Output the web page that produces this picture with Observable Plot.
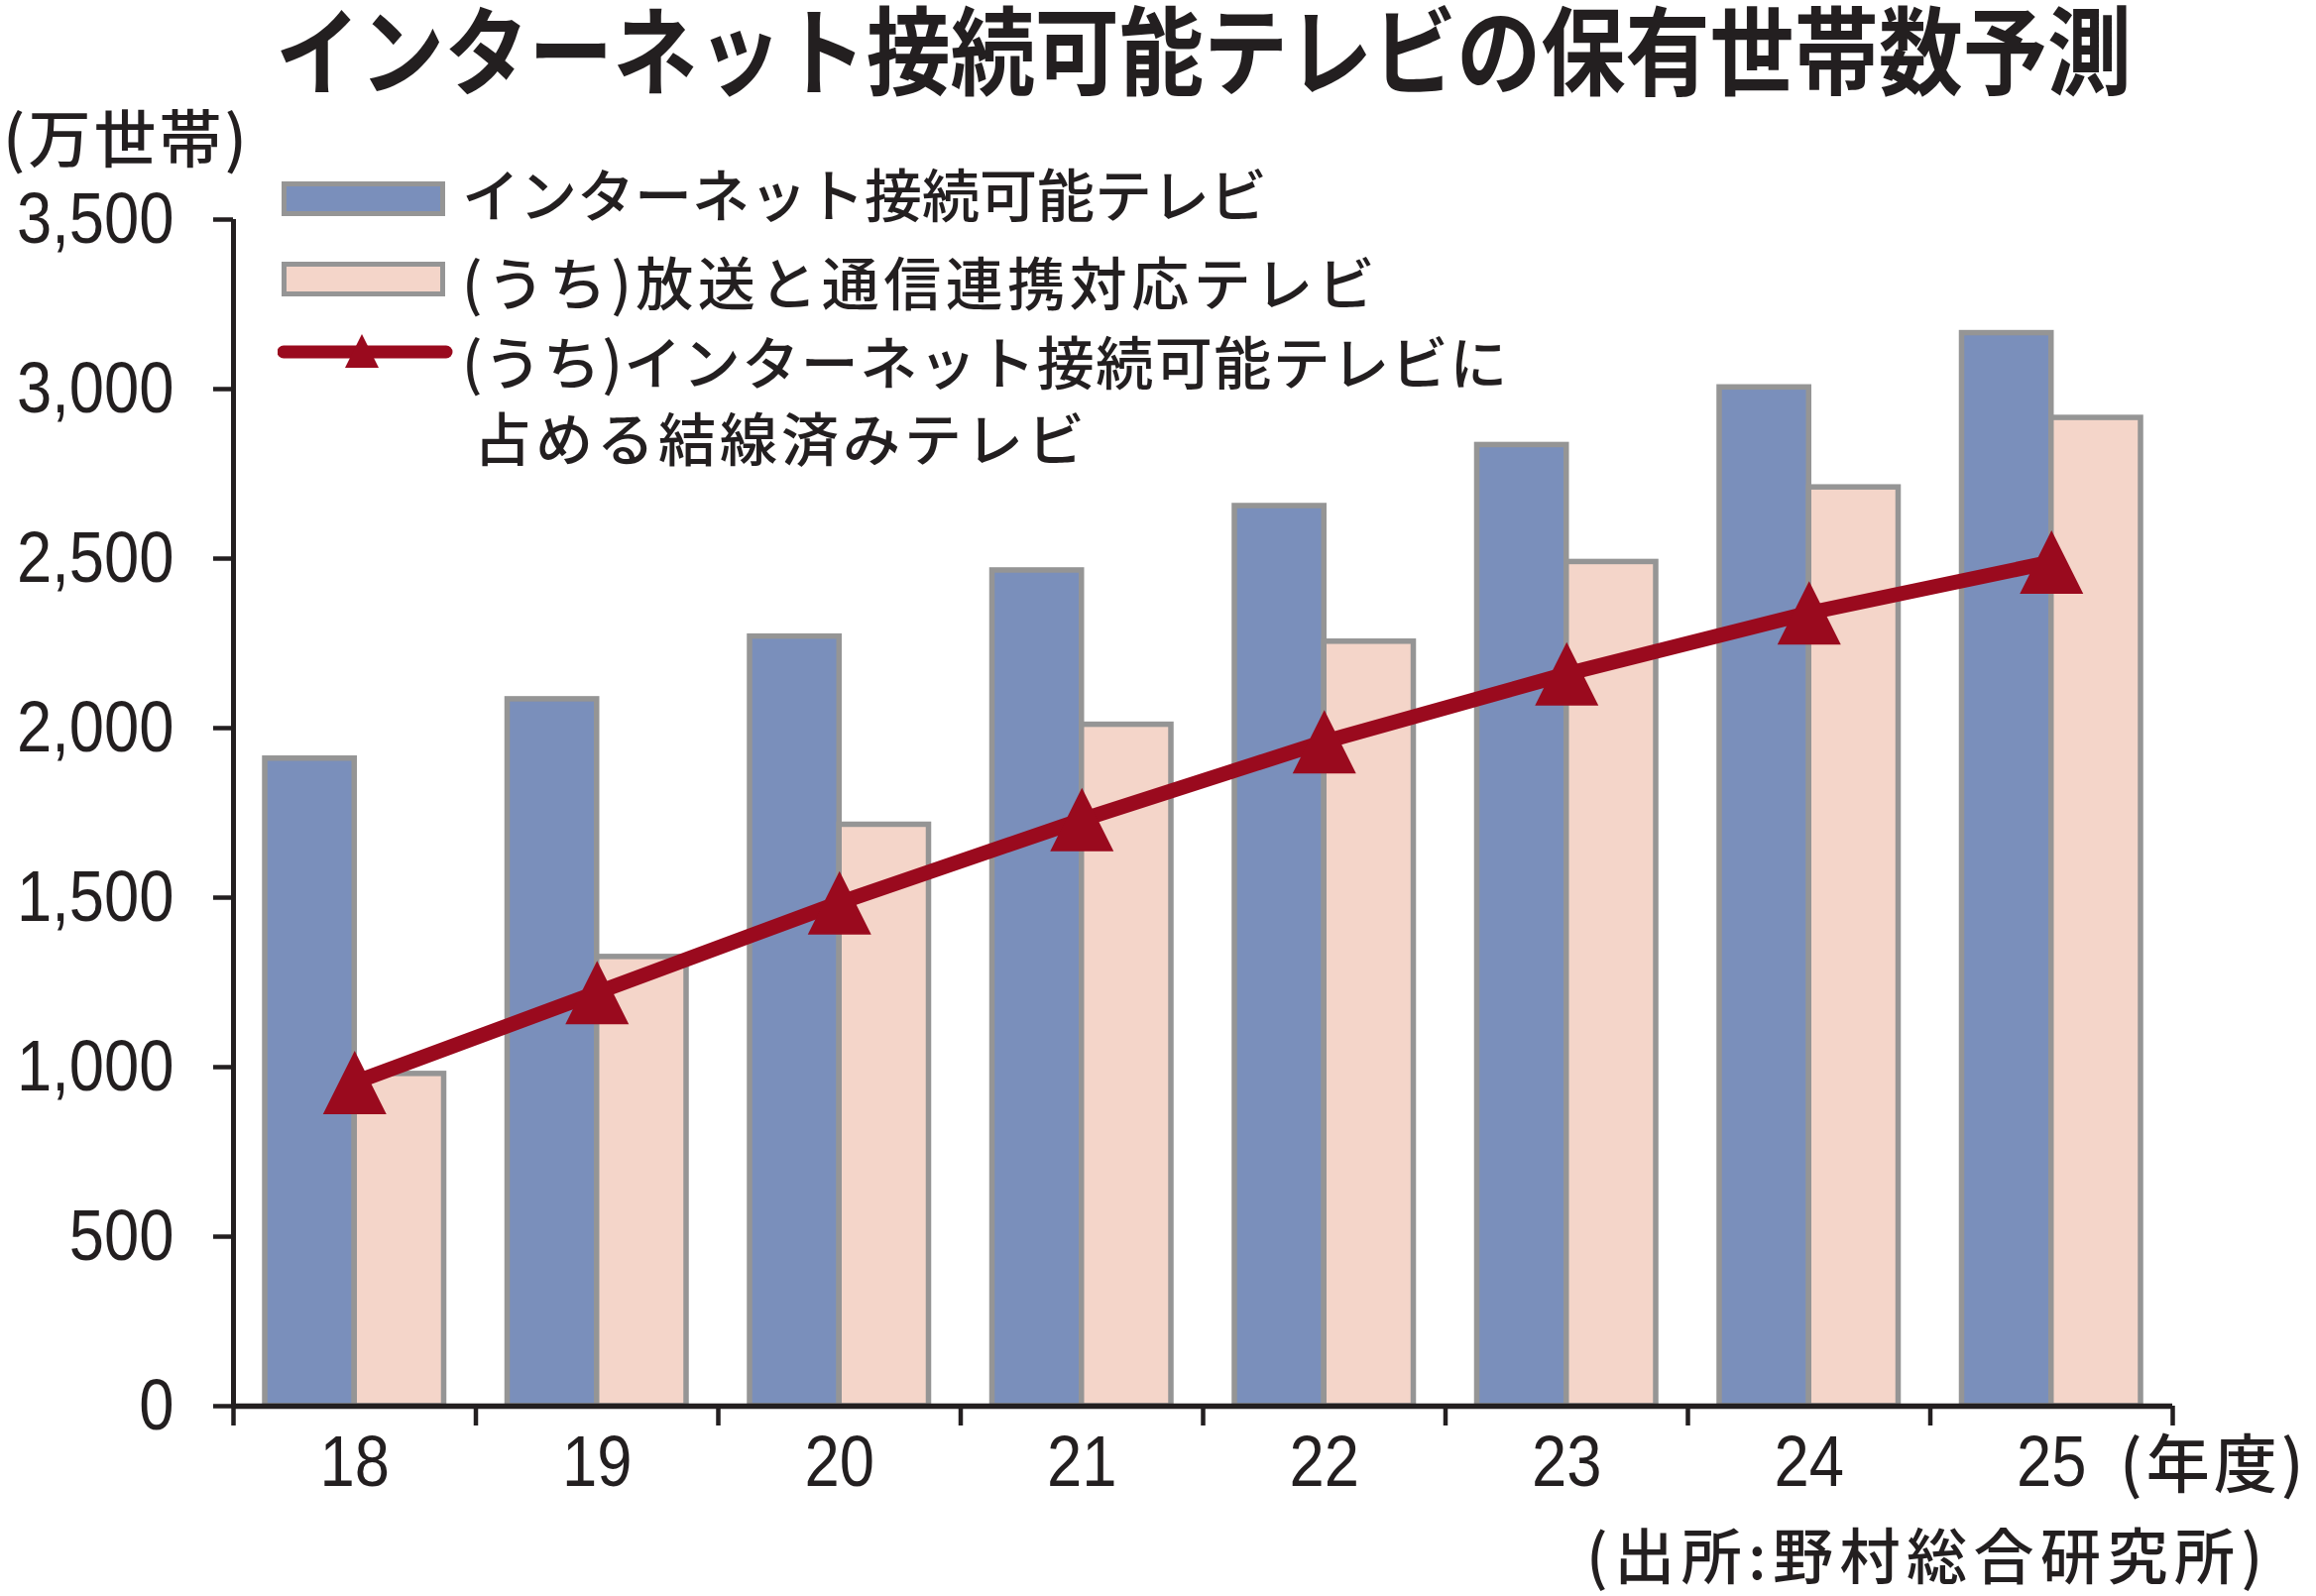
<!DOCTYPE html>
<html><head><meta charset="utf-8">
<script src="https://cdn.jsdelivr.net/npm/d3@7"></script>
<script src="https://cdn.jsdelivr.net/npm/@observablehq/plot@0.6"></script>
<style>
html,body{margin:0;padding:0;background:#fff;}
#wrap{position:relative;width:2336px;height:1610px;overflow:hidden;font-family:"Noto Sans CJK JP",sans-serif;color:#231f20;}
#wrap svg{position:absolute;left:0;top:0;}
.t{position:absolute;white-space:nowrap;line-height:1;}
.sw{position:absolute;box-sizing:border-box;border:5px solid #959595;}
</style></head>
<body><div id="wrap">
<div class="t" id="title" style="left:278px;top:6px;font-family:'Liberation Sans','Noto Sans CJK JP',sans-serif;font-size:97px;font-weight:700;transform-origin:0 0;">インターネット接続可能テレビの保有世帯数予測</div>
<div class="t" style="left:3px;top:104px;font-size:63px;font-weight:500;letter-spacing:3px;">(万世帯)</div>
<div class="sw" style="left:284px;top:183px;width:165px;height:35px;background:#7a8fbb;"></div>
<div class="t" style="left:466px;top:165px;font-size:58px;font-weight:500;">インターネット接続可能テレビ</div>
<div class="sw" style="left:284px;top:264px;width:165px;height:35px;background:#f4d5c9;"></div>
<div class="t" style="left:466px;top:254px;font-size:58px;font-weight:500;letter-spacing:4.5px;">(うち)放送と通信連携対応テレビ</div>
<svg style="position:absolute;left:280px;top:330px;" width="180" height="60"><line x1="6" y1="25" x2="170" y2="25" stroke="#9a0a1e" stroke-width="13" stroke-linecap="round"/><polygon points="85,7 68,41 102,41" fill="#9a0a1e"/></svg>
<div class="t" style="left:466px;top:334px;font-size:58px;font-weight:500;letter-spacing:1.5px;">(うち)インターネット接続可能テレビに</div>
<div class="t" style="left:478px;top:411px;font-size:58px;font-weight:500;letter-spacing:4px;">占める結線済みテレビ</div>
<div class="t" style="left:2138px;top:1440px;font-size:64px;font-weight:500;letter-spacing:4px;">(年度)</div>
<div class="t" style="left:1600px;top:1536px;font-size:61px;font-weight:500;letter-spacing:6.5px;">(出所:野村総合研究所)</div>
</div>
<script>
const years = [18, 19, 20, 21, 22, 23, 24, 25];
const connectable = [1910, 2085, 2270, 2465, 2655, 2835, 3005, 3165];
const broadcastLinked = [980, 1325, 1715, 2010, 2255, 2490, 2710, 2915];
const wired = [955, 1220, 1485, 1730, 1960, 2160, 2340, 2490];
const yTicks = [0, 500, 1000, 1500, 2000, 2500, 3000, 3500];

const data = years.map((year, i) => ({year, connectable: connectable[i], broadcastLinked: broadcastLinked[i], wired: wired[i]}));
const boundaries = [...years.map(y => y - 0.5), years[years.length - 1] + 0.5];

const BLUE = "#7a8fbb", PEACH = "#f4d5c9", GREY = "#959595", RED = "#9a0a1e", INK = "#231f20";
const NUMFONT = "'Liberation Sans', Arial, sans-serif";

const tri = {
  draw(ctx, size) {
    const r = Math.sqrt(size / Math.PI);
    ctx.moveTo(0, -r);
    ctx.lineTo(r, r);
    ctx.lineTo(-r, r);
    ctx.closePath();
  }
};

const chart = Plot.plot({
  width: 2336,
  height: 1610,
  marginLeft: 235,
  marginRight: 145,
  marginTop: 221,
  marginBottom: 192,
  style: {color: INK, background: "transparent", fontFamily: NUMFONT, fontSize: "72px"},
  x: {type: "linear", domain: [boundaries[0], boundaries[boundaries.length - 1]], label: null},
  y: {domain: [0, 3500], label: null},
  marks: [
    Plot.rectY(data, {x1: d => d.year - 0.5, x2: d => d.year + 0.5, y: "connectable",
      fill: BLUE, stroke: GREY, strokeWidth: 5.5, insetLeft: 32, insetRight: 122.25}),
    Plot.rectY(data, {x1: d => d.year - 0.5, x2: d => d.year + 0.5, y: "broadcastLinked",
      fill: PEACH, stroke: GREY, strokeWidth: 5.5, insetLeft: 122.25, insetRight: 32}),
    Plot.ruleX([boundaries[0]], {stroke: INK, strokeWidth: 5}),
    Plot.ruleY([0], {stroke: INK, strokeWidth: 5.5}),
    Plot.axisY({ticks: yTicks, tickSize: 20, tickPadding: 40, tickFormat: d3.format(","),
      fontSize: 72, fontFamily: NUMFONT, strokeWidth: 4.5, label: null}),
    Plot.axisX({ticks: boundaries, tickSize: 20, tickFormat: () => "", strokeWidth: 4.5, label: null}),
    Plot.axisX({ticks: years, tickSize: 0, tickPadding: 29, tickFormat: d => String(d),
      fontSize: 72, fontFamily: NUMFONT, label: null}),
    Plot.line(data, {x: "year", y: "wired", stroke: RED, strokeWidth: 15}),
    Plot.dot(data, {x: "year", y: "wired", symbol: tri, r: 32, fill: RED, stroke: "none"})
  ]
});
document.getElementById("wrap").prepend(chart);

// condense the numeric tick labels horizontally, keeping each label's anchor fixed
chart.querySelectorAll("text").forEach(t => {
  const bb = t.getBBox();
  if (!bb.width) return;
  const anchor = t.closest("[text-anchor]")?.getAttribute("text-anchor") || t.getAttribute("text-anchor") || "middle";
  const ax = anchor === "end" ? bb.x + bb.width : anchor === "start" ? bb.x : bb.x + bb.width / 2;
  const prev = t.getAttribute("transform") || "";
  t.setAttribute("transform", `${prev} translate(${ax},0) scale(0.88,1) translate(${-ax},0)`);
});

// fit the title to the reference width
const title = document.getElementById("title");
const tw = title.getBoundingClientRect().width;
title.style.transform = `scaleX(${1872 / tw})`;
</script>
</body></html>
